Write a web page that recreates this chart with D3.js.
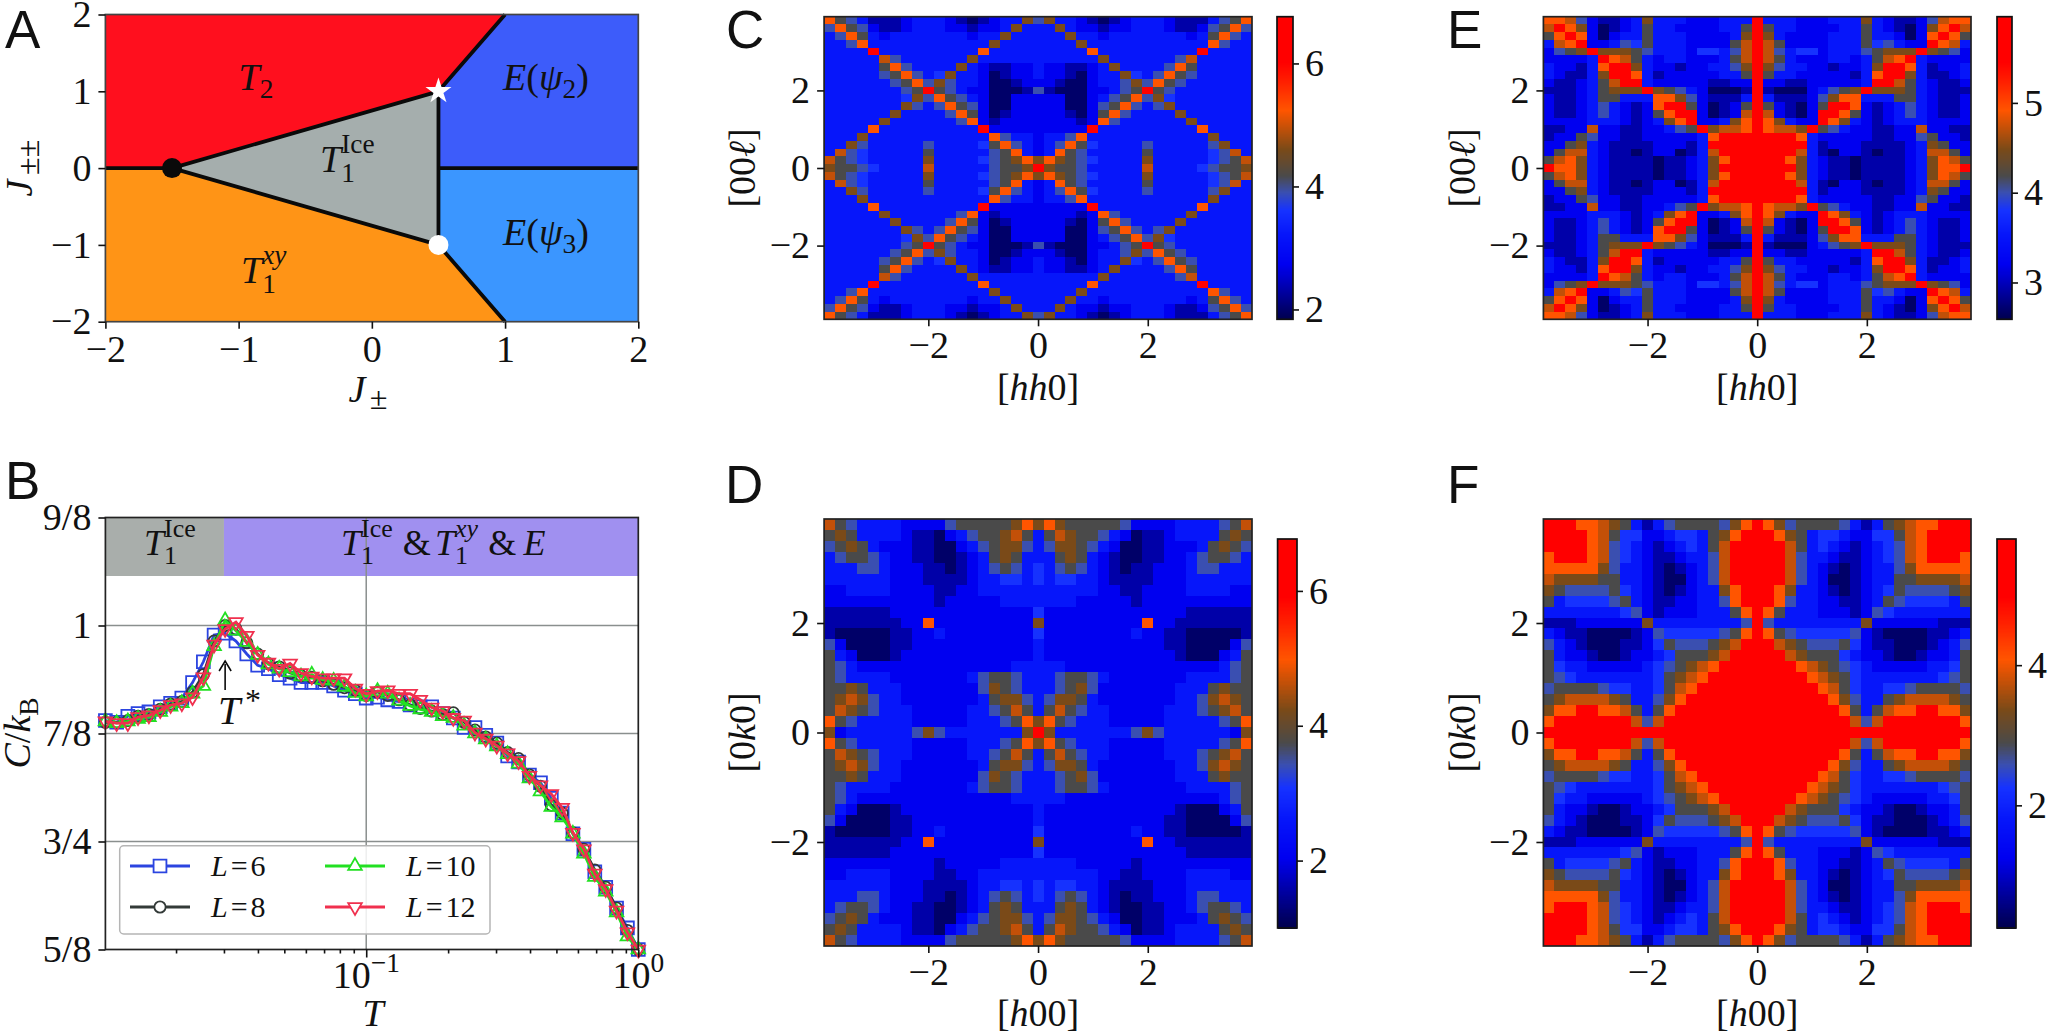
<!DOCTYPE html>
<html>
<head>
<meta charset="utf-8">
<script src="https://cdnjs.cloudflare.com/ajax/libs/d3/7.8.5/d3.min.js"></script>
<style>
  html, body { margin: 0; padding: 0; background: #fff; }
  svg { display: block; }
  text { font-family: "Liberation Serif", serif; fill: #111; }
  .letter { font-family: "Liberation Sans", sans-serif; font-size: 53px; }
</style>
</head>
<body>
<svg id="fig" width="2048" height="1033"></svg>
<script>
// panel A: phase diagram
const phaseNames = ["T2", "Epsi2", "Epsi3", "Txy", "Tice"];
const phaseColors = ["#ff0f1e", "#3d5cfa", "#3b96ff", "#ff9416", "#a5aead"];
const phaseT2 = [[-2, 0], [-1.5, 0], [0.5, 1], [1, 2], [-2, 2]];
const phaseEpsi2 = [[0.5, 0], [2, 0], [2, 2], [1, 2], [0.5, 1]];
const phaseEpsi3 = [[0.5, 0], [2, 0], [2, -2], [1, -2], [0.5, -1]];
const phaseTxy = [[-2, 0], [-1.5, 0], [0.5, -1], [1, -2], [-2, -2]];
const phaseTice = [[-1.5, 0], [0.5, 1], [0.5, -1]];
const phaseLines = [
  [[-2, 0], [-1.5, 0], [0.5, 1], [1, 2]],
  [[-1.5, 0], [0.5, -1], [1, -2]],
  [[0.5, 1], [0.5, -1]],
  [[0.5, 0], [2, 0]]
];
const phaseTicks = [-2, -1, 0, 1, 2];

// panel B: specific heat
const tempT = [0.0110, 0.0121, 0.0133, 0.0145, 0.0159, 0.0175, 0.0191, 0.0210, 0.0230, 0.0252,
  0.0276, 0.0303, 0.0332, 0.0364, 0.0399, 0.0437, 0.0479, 0.0525, 0.0576, 0.0631,
  0.0692, 0.0759, 0.0832, 0.0912, 0.100, 0.110, 0.120, 0.132, 0.145, 0.158,
  0.174, 0.191, 0.209, 0.229, 0.251, 0.275, 0.302, 0.331, 0.363, 0.398,
  0.437, 0.479, 0.525, 0.575, 0.631, 0.692, 0.759, 0.832, 0.912, 1.000];
const heatL6 = [.890, .888, .895, .898, .900, .906, .910, .916, .934, .958,
  .989, .991, .982, .967, .954, .950, .943, .939, .934, .934,
  .934, .930, .925, .921, .916, .917, .914, .912, .908, .906,
  .906, .898, .893, .882, .882, .873, .864, .849, .842, .827,
  .818, .800, .783, .759, .741, .715, .697, .673, .650, .625];
const heatL8 = [.888, .888, .890, .895, .897, .903, .909, .912, .923, .943,
  .982, 1.000, .996, .980, .967, .956, .952, .945, .942, .940,
  .936, .932, .928, .925, .919, .923, .919, .914, .908, .904,
  .901, .897, .899, .888, .879, .871, .864, .853, .846, .827,
  .814, .792, .783, .760, .741, .717, .697, .673, .647, .625];
const heatL10 = [.889, .887, .889, .892, .894, .900, .906, .910, .921, .930,
  .976, 1.006, .994, .981, .966, .955, .950, .946, .941, .943,
  .937, .936, .929, .922, .918, .924, .921, .913, .907, .903,
  .900, .895, .893, .884, .875, .868, .860, .851, .840, .823,
  .808, .790, .778, .759, .736, .709, .692, .668, .640, .625];
const heatL12 = [.889, .887, .887, .894, .896, .902, .908, .910, .917, .940,
  .978, .996, 1.004, .988, .966, .957, .950, .956, .945, .941,
  .939, .939, .939, .927, .921, .924, .925, .921, .921, .914,
  .905, .901, .893, .890, .876, .869, .861, .852, .843, .826,
  .815, .805, .789, .760, .741, .713, .695, .670, .645, .625];
const heatTicks = [0.625, 0.75, 0.875, 1, 1.125];
const heatTickLabels = ["5/8", "3/4", "7/8", "1", "9/8"];
const tMinorTicks = [0.02, 0.03, 0.04, 0.05, 0.06, 0.07, 0.08, 0.09, 0.2, 0.3, 0.4, 0.5, 0.6, 0.7, 0.8, 0.9];

// panels C-F: top left quarter of each map (rows top to bottom), the rest is mirrored.
// letters run from darkest blue to red, one value per letter in levelsX
const levelCodes = "ndbmlgkworR";
const levelsC = [1.99, 2.33, 2.73, 3.22, 3.61, 3.91, 4.18, 4.60, 4.94, 5.23, 6.02];
const levelsD = [1.17, 1.58, 2.04, 2.62, 3.08, 3.42, 3.74, 4.23, 4.64, 4.98, 5.90];
const levelsE = [2.69, 2.93, 3.20, 3.53, 3.80, 4.00, 4.19, 4.48, 4.71, 4.92, 5.45];
const levelsF = [0.42, 0.81, 1.25, 1.80, 2.25, 2.58, 2.89, 3.36, 3.75, 4.08, 4.97];
const gridC = [
  "rkgmdddbmmmbdndbmmwg", "grkgbddbmmmbbdbbmwmm", "mgrkmbmmmmmmmbmmwmmm", "mmgrmmmmmmmmmmmwmmmm",
  "mmmmRmmmmmmmmmrmmmmm", "mmmmmogmmmmmmwmmmmmm", "mmmmmkrgmmmmwmbddbbm", "mmmmmgkrgmlwmmbndbbm",
  "mmmmmmgkrgwgmmbnndbb", "mmmmmmmgkRkgmbbnnndg", "mmmmmmmlwgrkgmbnnbbb", "mmmmmmmwgmgrkgbnnbbb",
  "mmmmmmwmmmmgrkbndbbb", "mmmmmwmmmmmmgrbdbbbb", "mmmmrmmmmmmmmmRbbbbb", "mmmwmmmmmmmmmmmrgmmb",
  "mmwgmmmmmgmmmmlkrgmb", "moglmmmmmkmmmmmgkrmb", "okglmmmmmwmmmmlgkwrw", "wkkglmmmmommmmmgkkwR"];
const gridD = [
  "okgmmmmbbbbgkkkkkwrw", "kwkmmmmbddnbmgkkwokm", "gkwkmbbbddnnbmgkwwgm", "mgkkgmbbddnndbmkwkmm",
  "mmmggmbbbddndbmgkgml", "mmmmmmbbbddddbmmllml", "bbmmmmbbbbddbbmmmmmm", "bbbbbbbbbbdbbbbbmmmm",
  "ddddddbbbbbbbbbbbbbl", "dddddddbbrbbbbbbbbbw", "dnnnnnddbbmbbbbbbbbl", "gbnnnnddbbbbbbbbbbbm",
  "kmbnnndbbbbbbbbbbbbm", "kgmbbbbbbbbbbbbbbmmm", "kgmmmmbbbbbbbmgkkgmm", "kkwkmmmbbbbbbbgwkgmm",
  "kwowgmmbbbbbbbmkwwgm", "kowkgmmmbbbbbmmgkokm", "rkgmmmmmbbbbbmmmgkrw", "wbmmmmmmgwgmmmmmmmwR"];
const gridE = [
  "rrogbddbmwmmmbbbmmmR", "oRrwbndbmkmmbbbbmmkR", "krRrbnbmmkmmmbbbbmwR", "morRbbmglkmmmbbbbkoR",
  "bgkwRwwwkgmmmbllmgoR", "bbbbmRrokmbmmbbbmkoR", "mbbdmrRRwmbbdbbmmgwR", "mbddmwRRrmdbbbbbmmkR",
  "bddbmkoRRmbbbbbddbbR", "dddbmkwwwRwkgmbnnndR", "bddbmkkmmmrrwgbdddmR", "bddbmgmbdbrRRkbndbkR",
  "bddbmgmbdbkrRRbndboR", "bbbbmmmbdbmwrRbbmwrR", "ddbbobbddbbmgkRwoorR", "dbbkgbbddbbbbbmrRRRR",
  "bbkwmbddddbbbdmRRRRR", "bkoombddndbbndmoRRRR", "korwmbddddnddbmwrRRR", "RrrwmbddddnddbmwRRRR"];
const gridF = [
  "RRRrrowkmdmgkkkkgwrR", "RRRRrokllbbmllmkwrRR", "RRRRroglmbdbmlmkoRRR", "rRRRroglmbddbmmgoRRR",
  "rrrrrwgmmbdndbmgoRRR", "owwwwkkmmbdnnbmgoRRR", "wkggggklmbdndbmmwrRR", "kmllllgkmbddbbmmgrRR",
  "mmmmmmmlgbdbbbmmmkrR", "dddbbbbbbwmmmmmmmmgR", "mbddnnnndbglllllgkrR", "gmbdnnnddblkgggkwoRR",
  "kmbbdnndbbmlkkkwoRRR", "klmmbbbbbmlgkworRRRR", "kglmmmmmmmlkworRRRRR", "gkkkkgllmmlkorRRRRRR",
  "kwoooowkmmgwrRRRRRRR", "wrrRRrrokmkrRRRRRRRR", "rRRRRRRRogoRRRRRRRRR", "RRRRRRRRRRRRRRRRRRRR"];
const mapTicks = [-2, 0, 2];
const mapLimit = 3.9;
const mapStep = 0.2;

// colour bars
const barDomainC = [1.84, 6.76], barTicksC = [2, 4, 6];
const barDomainD = [1.0, 6.77], barTicksD = [2, 4, 6];
const barDomainE = [2.59, 5.96], barTicksE = [3, 4, 5];
const barDomainF = [0.25, 5.8], barTicksF = [2, 4];
const cmapStops = [0, .1, .18, .28, .36, .42, .475, .56, .63, .69, .78, .85, 1];
const cmapColors = ["#00004d", "#0000a8", "#0000f0", "#0616fa", "#1632ff", "#3a4fb0", "#4a4a4a",
  "#7a4a18", "#c25008", "#ff5500", "#ff2200", "#ff0000", "#ff0000"];

const svg = d3.select("#fig");
const cmap = d3.scaleLinear().domain(cmapStops).range(cmapColors);
const tickSize = 38;

// text made of several runs, stay:true means the next run starts at the same x (stacked sub and sup)
function rich(x, y, size, parts, anchor, rotate) {
  const g = svg.append("g");
  let cx = 0, held = 0;
  parts.forEach(function(p) {
    const t = g.append("text")
      .attr("x", cx)
      .attr("y", (p.dy || 0) * size)
      .attr("font-size", size * (p.s || 1))
      .attr("font-style", p.i ? "italic" : "normal")
      .text(p.t);
    const w = t.node().getComputedTextLength();
    if (p.stay) {
      held = w;
    } else {
      cx += Math.max(w, held) + (p.gap || 0) * size;
      held = 0;
    }
  });
  const off = anchor === "middle" ? -cx / 2 : 0;
  g.attr("transform", "translate(" + x + "," + y + ")" + (rotate ? " rotate(-90)" : "") + " translate(" + off + ",0)");
  return g;
}

function letter(t, x, y) {
  svg.append("text").attr("class", "letter").attr("x", x).attr("y", y).text(t);
}

function styleAxis(g, size) {
  g.select(".domain").remove();
  g.selectAll(".tick line").attr("stroke", "#111").attr("stroke-width", 1.6);
  g.selectAll(".tick text").attr("font-size", size).attr("fill", "#111")
    .attr("font-family", "Liberation Serif");
}

function frame(x0, y0, x1, y1, color) {
  svg.append("rect").attr("x", x0).attr("y", y0).attr("width", x1 - x0).attr("height", y1 - y0)
    .attr("fill", "none").attr("stroke", color || "#222").attr("stroke-width", 1.7);
}

/* ---------- A ---------- */
const xA = d3.scaleLinear().domain([-2, 2]).range([105.4, 638.3]);
const yA = d3.scaleLinear().domain([-2, 2]).range([321.7, 14.5]);
const lineA = d3.line().x(d => xA(d[0])).y(d => yA(d[1]));

[phaseT2, phaseEpsi2, phaseEpsi3, phaseTxy, phaseTice].forEach(function(poly, i) {
  svg.append("path").attr("class", phaseNames[i]).attr("d", lineA(poly) + "Z").attr("fill", phaseColors[i]);
});
phaseLines.forEach(function(l) {
  svg.append("path").attr("d", lineA(l)).attr("fill", "none").attr("stroke", "#0a0a0a")
    .attr("stroke-width", 3.8).attr("stroke-linejoin", "round");
});
svg.append("circle").attr("cx", xA(-1.5)).attr("cy", yA(0)).attr("r", 10).attr("fill", "#0a0a0a");
svg.append("circle").attr("cx", xA(0.5)).attr("cy", yA(-1)).attr("r", 10).attr("fill", "#fff");
svg.append("path").attr("d", d3.symbol().type(d3.symbolStar).size(210)())
  .attr("transform", "translate(" + xA(0.5) + "," + yA(1) + ")").attr("fill", "#fff");
frame(105.4, 14.5, 638.3, 321.7, "#444");

let axG = svg.append("g").attr("transform", "translate(0,321.7)")
  .call(d3.axisBottom(xA).tickValues(phaseTicks).tickSize(7).tickPadding(6).tickFormat(d3.format("d")));
styleAxis(axG, tickSize);
axG = svg.append("g").attr("transform", "translate(105.4,0)")
  .call(d3.axisLeft(yA).tickValues(phaseTicks).tickSize(7).tickPadding(7).tickFormat(d3.format("d")));
styleAxis(axG, tickSize);

rich(256, 90, 38, [{ t: "T", i: 1 }, { t: "2", s: .72, dy: .22 }], "middle");
rich(546, 90, 38, [{ t: "E", i: 1 }, { t: "(" }, { t: "ψ", i: 1 }, { t: "2", s: .72, dy: .22 }, { t: ")" }], "middle");
rich(546, 245, 38, [{ t: "E", i: 1 }, { t: "(" }, { t: "ψ", i: 1 }, { t: "3", s: .72, dy: .22 }, { t: ")" }], "middle");
rich(320, 172, 38, [{ t: "T", i: 1 }, { t: "Ice", s: .72, dy: -.5, stay: 1 }, { t: "1", s: .72, dy: .25 }]);
rich(241, 283, 38, [{ t: "T", i: 1 }, { t: "xy", i: 1, s: .72, dy: -.5, stay: 1 }, { t: "1", s: .72, dy: .25 }]);
rich(368, 402, 38, [{ t: "J", i: 1, gap: .12 }, { t: "±", s: .85, dy: .18 }], "middle");
rich(32, 168, 38, [{ t: "J", i: 1, gap: .12 }, { t: "±±", s: .85, dy: .18 }], "middle", true);
letter("A", 5, 48);

/* ---------- B ---------- */
const xB = d3.scaleLog().domain([0.011, 1]).range([105.4, 638.3]);
const yB = d3.scaleLinear().domain([0.625, 1.125]).range([949.5, 517.5]);

svg.append("rect").attr("x", xB(0.011)).attr("y", yB(1.125)).attr("width", xB(0.03) - xB(0.011))
  .attr("height", 58.5).attr("fill", "#a9aeab");
svg.append("rect").attr("x", xB(0.03)).attr("y", yB(1.125)).attr("width", xB(1) - xB(0.03))
  .attr("height", 58.5).attr("fill", "#a090f0");

svg.selectAll(".gridY").data([0.75, 0.875, 1]).enter().append("line").attr("class", "gridY")
  .attr("x1", xB(0.011)).attr("x2", xB(1)).attr("y1", d => yB(d)).attr("y2", d => yB(d))
  .attr("stroke", "#8a8f8e").attr("stroke-width", 1.5);
svg.append("line").attr("x1", xB(0.1)).attr("x2", xB(0.1)).attr("y1", yB(1.125)).attr("y2", yB(0.625))
  .attr("stroke", "#8a8f8e").attr("stroke-width", 1.5);

const seriesB = [
  { name: "6", values: heatL6, color: "#2b44e0", sym: d3.symbolSquare, size: 165, flip: false },
  { name: "8", values: heatL8, color: "#333a38", sym: d3.symbolCircle, size: 100, flip: false },
  { name: "10", values: heatL10, color: "#22e022", sym: d3.symbolTriangle, size: 80, flip: false },
  { name: "12", values: heatL12, color: "#f0304e", sym: d3.symbolTriangle, size: 80, flip: true }
];
const lineB = d3.line().x(d => xB(d[0])).y(d => yB(d[1]));

seriesB.forEach(function(s) {
  const pts = d3.zip(tempT, s.values);
  svg.append("path").attr("d", lineB(pts)).attr("fill", "none").attr("stroke", s.color).attr("stroke-width", 2.8);
  svg.selectAll(".m" + s.name).data(pts).enter().append("path").attr("class", "m" + s.name)
    .attr("d", d3.symbol().type(s.sym).size(s.size)())
    .attr("transform", d => "translate(" + xB(d[0]) + "," + yB(d[1]) + ")" + (s.flip ? " rotate(180)" : ""))
    .attr("fill", "none").attr("stroke", s.color).attr("stroke-width", 1.8);
});

// legend
svg.append("rect").attr("x", 119.7).attr("y", 845.8).attr("width", 370.3).attr("height", 88.2).attr("rx", 4)
  .attr("fill", "#fff").attr("fill-opacity", 0.85).attr("stroke", "#b5b5b5").attr("stroke-width", 1.5);
const legendX = d3.scaleOrdinal().domain(["6", "8", "10", "12"]).range([130, 130, 325, 325]);
const legendY = d3.scaleOrdinal().domain(["6", "8", "10", "12"]).range([866, 907, 866, 907]);
seriesB.forEach(function(s) {
  const lx = legendX(s.name), ly = legendY(s.name);
  svg.append("line").attr("x1", lx).attr("x2", lx + 60).attr("y1", ly).attr("y2", ly)
    .attr("stroke", s.color).attr("stroke-width", 2.8);
  svg.append("path").attr("d", d3.symbol().type(s.sym).size(s.size)())
    .attr("transform", "translate(" + (lx + 30) + "," + ly + ")" + (s.flip ? " rotate(180)" : ""))
    .attr("fill", "#fff").attr("stroke", s.color).attr("stroke-width", 1.8);
  rich(lx + 81, ly + 10, 30, [{ t: "L", i: 1, gap: .1 }, { t: "=", gap: .1 }, { t: s.name }]);
});

frame(105.4, 517.5, 638.3, 949.5);
axG = svg.append("g").attr("transform", "translate(105.4,0)")
  .call(d3.axisLeft(yB).tickValues(heatTicks).tickSize(7).tickPadding(7)
    .tickFormat((d, i) => heatTickLabels[i]));
styleAxis(axG, tickSize);
axG = svg.append("g").attr("transform", "translate(0,949.5)")
  .call(d3.axisBottom(xB).tickValues([0.1, 1]).tickSize(8).tickFormat(""));
styleAxis(axG, tickSize);
axG = svg.append("g").attr("transform", "translate(0,949.5)")
  .call(d3.axisBottom(xB).tickValues(tMinorTicks).tickSize(4).tickFormat(""));
styleAxis(axG, tickSize);

rich(366.4, 987.7, tickSize, [{ t: "10" }, { t: "−1", s: .72, dy: -.42 }], "middle");
rich(638.3, 987.7, tickSize, [{ t: "10" }, { t: "0", s: .72, dy: -.42 }], "middle");
rich(144, 555, 36, [{ t: "T", i: 1 }, { t: "Ice", s: .72, dy: -.5, stay: 1 }, { t: "1", s: .72, dy: .25 }]);
rich(341, 555, 36, [{ t: "T", i: 1 }, { t: "Ice", s: .72, dy: -.5, stay: 1 }, { t: "1", s: .72, dy: .25, gap: .28 },
  { t: "&", gap: .12 }, { t: "T", i: 1 }, { t: "xy", i: 1, s: .72, dy: -.5, stay: 1 }, { t: "1", s: .72, dy: .25, gap: .28 },
  { t: "&", gap: .2 }, { t: "E", i: 1 }]);
rich(373, 1026, 38, [{ t: "T", i: 1 }], "middle");
rich(30, 733, 38, [{ t: "C", i: 1 }, { t: "/" }, { t: "k", i: 1 }, { t: "B", s: .72, dy: .22 }], "middle", true);

// T* arrow
svg.append("line").attr("x1", xB(0.0303)).attr("x2", xB(0.0303)).attr("y1", 690).attr("y2", 664)
  .attr("stroke", "#0a0a0a").attr("stroke-width", 1.6);
svg.append("path").attr("d", d3.line()([[xB(0.0303) - 6, 671], [xB(0.0303), 661], [xB(0.0303) + 6, 671]]))
  .attr("fill", "none").attr("stroke", "#0a0a0a").attr("stroke-width", 1.6);
rich(218, 723.6, 40, [{ t: "T", i: 1, gap: .12 }, { t: "*", s: .8, dy: -.32 }]);
letter("B", 5, 499);

/* ---------- C-F ---------- */
function drawMap(opt) {
  const x = d3.scaleLinear().domain([-mapLimit, mapLimit]).range([opt.x0, opt.x1]);
  const y = d3.scaleLinear().domain([-mapLimit, mapLimit]).range([opt.y1, opt.y0]);
  const color = d3.scaleLinear().domain(opt.barDomain).range([0, 1]);
  const n = opt.grid.length * 2 - 1;
  const cells = [];
  d3.range(n).forEach(function(r) {
    d3.range(n).forEach(function(c) {
      const row = opt.grid[r < opt.grid.length ? r : n - 1 - r];
      const ch = row[c < opt.grid.length ? c : n - 1 - c];
      cells.push({ r: r, c: c, v: opt.levels[levelCodes.indexOf(ch)] });
    });
  });
  const g = svg.append("g").attr("shape-rendering", "crispEdges");
  g.selectAll("rect").data(cells).enter().append("rect")
    .attr("x", d => x(-mapLimit + d.c * mapStep))
    .attr("y", d => y(mapLimit - d.r * mapStep))
    .attr("width", x(mapStep) - x(0) + 0.4)
    .attr("height", y(0) - y(mapStep) + 0.4)
    .attr("fill", d => cmap(color(d.v)));
  frame(opt.x0, opt.y0, opt.x1, opt.y1);

  let a = svg.append("g").attr("transform", "translate(0," + opt.y1 + ")")
    .call(d3.axisBottom(x).tickValues(mapTicks).tickSize(7).tickPadding(5).tickFormat(d3.format("d")));
  styleAxis(a, tickSize);
  a = svg.append("g").attr("transform", "translate(" + opt.x0 + ",0)")
    .call(d3.axisLeft(y).tickValues(mapTicks).tickSize(7).tickPadding(7).tickFormat(d3.format("d")));
  styleAxis(a, tickSize);

  // colour bar
  const bar = d3.scaleLinear().domain(opt.barDomain).range([opt.barY1, opt.barY0]);
  const barG = svg.append("g").attr("shape-rendering", "crispEdges");
  barG.selectAll("rect").data(d3.range(0, 1, 1 / 300)).enter().append("rect")
    .attr("x", opt.barX0).attr("width", opt.barX1 - opt.barX0)
    .attr("y", d => opt.barY1 - (d + 1 / 300) * (opt.barY1 - opt.barY0))
    .attr("height", (opt.barY1 - opt.barY0) / 300 + 0.6)
    .attr("fill", d => cmap(d));
  frame(opt.barX0, opt.barY0, opt.barX1, opt.barY1, "#111");
  a = svg.append("g").attr("transform", "translate(" + opt.barX1 + ",0)")
    .call(d3.axisRight(bar).tickValues(opt.barTicks).tickSize(6).tickPadding(6).tickFormat(d3.format("d")));
  styleAxis(a, tickSize);

  rich((opt.x0 + opt.x1) / 2, opt.xLabelY, 38, opt.xLabel, "middle");
  rich(opt.yLabelX, (opt.y0 + opt.y1) / 2, 38, opt.yLabel, "middle", true);
}

const hh0 = [{ t: "[" }, { t: "hh", i: 1 }, { t: "0]" }];
const h00 = [{ t: "[" }, { t: "h", i: 1 }, { t: "00]" }];
const l00 = [{ t: "[00" }, { t: "ℓ", i: 1 }, { t: "]" }];
const k00 = [{ t: "[0" }, { t: "k", i: 1 }, { t: "0]" }];

drawMap({ grid: gridC, levels: levelsC, x0: 824.1, x1: 1252, y0: 16.7, y1: 319.3, barDomain: barDomainC, barTicks: barTicksC,
  barX0: 1277, barX1: 1293, barY0: 16.7, barY1: 319.3, xLabel: hh0, yLabel: l00, xLabelY: 400, yLabelX: 755 });
drawMap({ grid: gridD, levels: levelsD, x0: 824.1, x1: 1252, y0: 519, y1: 946, barDomain: barDomainD, barTicks: barTicksD,
  barX0: 1277.6, barX1: 1297, barY0: 539, barY1: 928, xLabel: h00, yLabel: k00, xLabelY: 1026, yLabelX: 755 });
drawMap({ grid: gridE, levels: levelsE, x0: 1543.4, x1: 1971, y0: 16.7, y1: 319.3, barDomain: barDomainE, barTicks: barTicksE,
  barX0: 1997, barX1: 2012, barY0: 16.7, barY1: 319.3, xLabel: hh0, yLabel: l00, xLabelY: 400, yLabelX: 1475 });
drawMap({ grid: gridF, levels: levelsF, x0: 1543.4, x1: 1971, y0: 519, y1: 946, barDomain: barDomainF, barTicks: barTicksF,
  barX0: 1997, barX1: 2016, barY0: 539, barY1: 928, xLabel: h00, yLabel: k00, xLabelY: 1026, yLabelX: 1475 });

letter("C", 726, 48);
letter("D", 725, 503);
letter("E", 1447, 48);
letter("F", 1447, 503);
</script>
</body>
</html>
